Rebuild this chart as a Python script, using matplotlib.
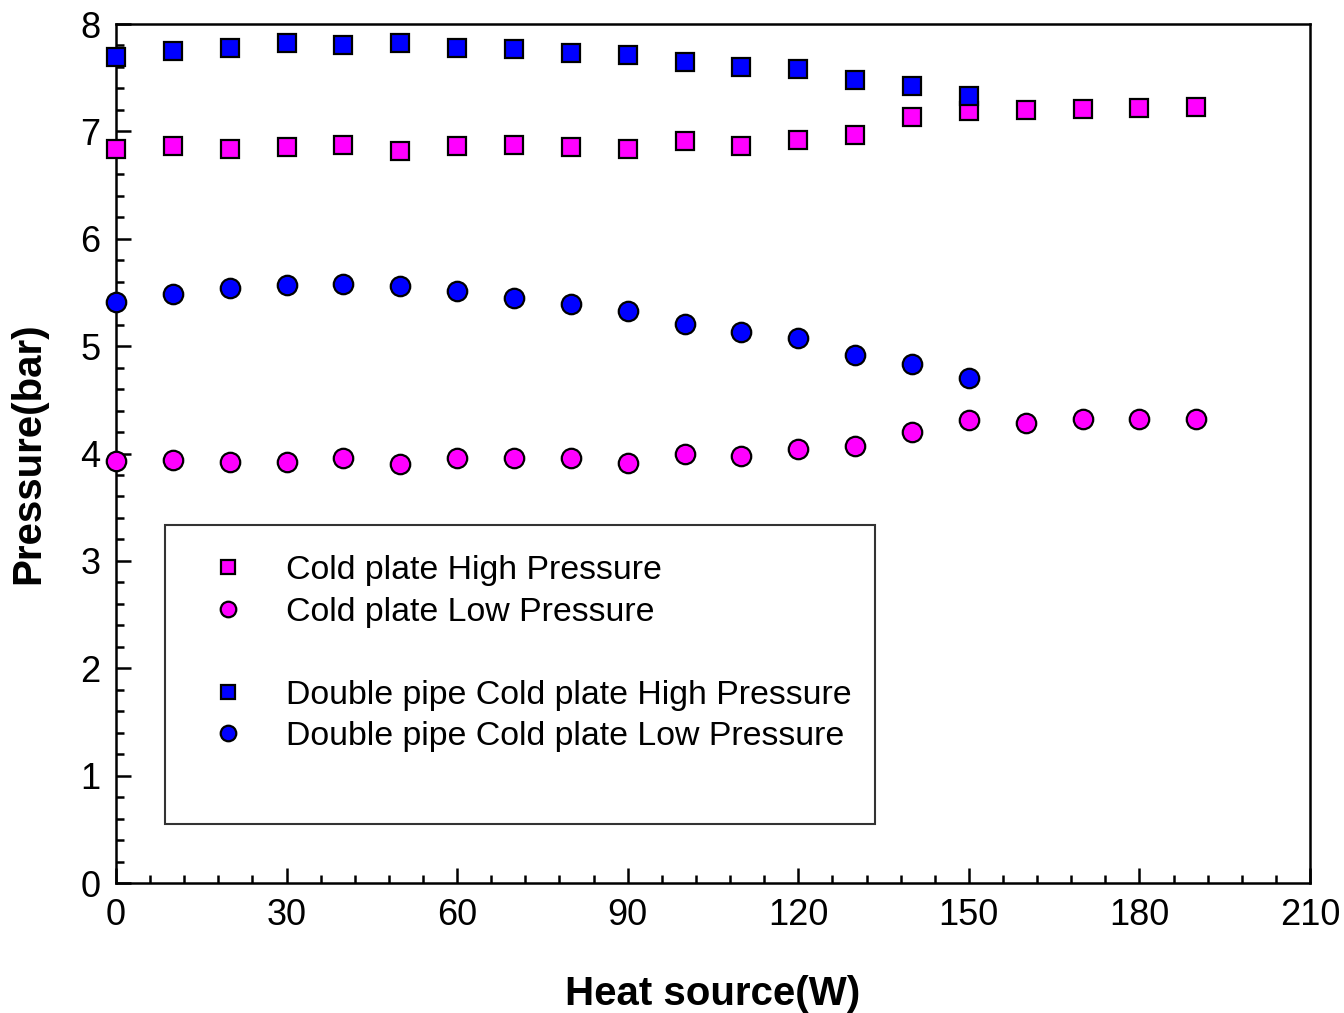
import matplotlib.pyplot as plt
from matplotlib.lines import Line2D
from matplotlib.ticker import MultipleLocator

plt.rcParams['font.family'] = ['Liberation Sans', 'DejaVu Sans']

heat = [0, 10, 20, 30, 40, 50, 60, 70, 80, 90, 100, 110, 120, 130, 140, 150, 160, 170, 180, 190]
cp_high = [6.84, 6.86, 6.84, 6.85, 6.87, 6.82, 6.86, 6.87, 6.85, 6.84,
           6.91, 6.86, 6.92, 6.97, 7.13, 7.19, 7.20, 7.21, 7.22, 7.23]
cp_low = [3.93, 3.94, 3.92, 3.92, 3.96, 3.90, 3.96, 3.96, 3.96, 3.91,
          4.00, 3.98, 4.04, 4.07, 4.20, 4.31, 4.28, 4.32, 4.32, 4.32]
heat_dp = heat[:16]
dp_high = [7.69, 7.75, 7.78, 7.82, 7.80, 7.82, 7.78, 7.77, 7.73, 7.71,
           7.65, 7.60, 7.58, 7.48, 7.42, 7.33]
dp_low = [5.41, 5.49, 5.54, 5.57, 5.58, 5.56, 5.51, 5.45, 5.39, 5.33,
          5.21, 5.13, 5.08, 4.92, 4.83, 4.70]

pink = '#ff00ff'
blue = '#0000ff'

fig = plt.figure(figsize=(13.44, 10.13), dpi=100)
ax = fig.add_axes([0.0863, 0.1283, 0.8884, 0.848])

style = dict(linestyle='none', markeredgecolor='black', markeredgewidth=1.6,
             clip_on=False, zorder=5)
ax.plot(heat, cp_high, marker='s', markersize=13, markerfacecolor=pink,
        label='Cold plate High Pressure', **style)
ax.plot(heat, cp_low, marker='o', markersize=14, markerfacecolor=pink,
        label='Cold plate Low Pressure', **style)
ax.plot(heat_dp, dp_high, marker='s', markersize=13, markerfacecolor=blue,
        label='Double pipe Cold plate High Pressure', **style)
ax.plot(heat_dp, dp_low, marker='o', markersize=14, markerfacecolor=blue,
        label='Double pipe Cold plate Low Pressure', **style)

ax.set_xlim(0, 210)
ax.set_ylim(0, 8)
ax.xaxis.set_major_locator(MultipleLocator(30))
ax.xaxis.set_minor_locator(MultipleLocator(6))
ax.yaxis.set_major_locator(MultipleLocator(1))
ax.yaxis.set_minor_locator(MultipleLocator(0.2))
ax.tick_params(which='both', direction='in', top=False, right=False,
               width=1.8, labelsize=26)
ax.tick_params(which='major', length=11, pad=11)
ax.tick_params(which='minor', length=6)
for s in ax.spines.values():
    s.set_linewidth(1.8)

ax.set_xlabel('Heat source(W)', fontsize=29, fontweight='bold', labelpad=30)
ax.set_ylabel('Pressure(bar)', fontsize=29, fontweight='bold', labelpad=24)

handles, labels = ax.get_legend_handles_labels()
blank = Line2D([], [], linestyle='none', marker='none')
handles = handles[:2] + [blank] + handles[2:] + [blank]
labels = labels[:2] + [''] + labels[2:] + ['']
leg = ax.legend(handles, labels, loc='upper left',
                bbox_to_anchor=(0.041, 0.0, 0.595, 0.417), mode='expand',
                fontsize=24.4, frameon=True, fancybox=False, edgecolor='black',
                markerscale=0.8, handlelength=1.95, handletextpad=0.72,
                borderpad=0.9, labelspacing=0.31, borderaxespad=0)
leg.get_frame().set_linewidth(1.5)

fig.savefig('out.png', dpi=100)
